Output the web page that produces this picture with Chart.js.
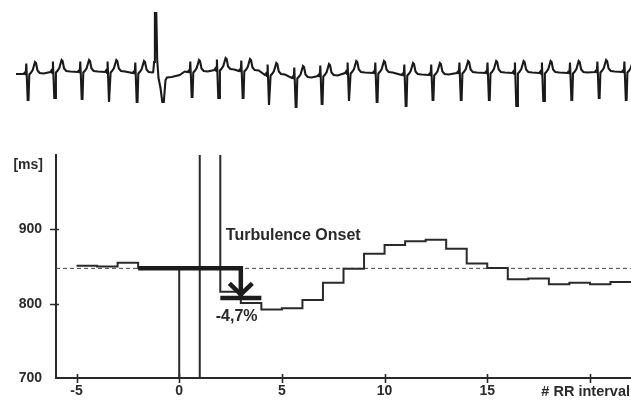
<!DOCTYPE html>
<html>
<head>
<meta charset="utf-8">
<title>Heart rate turbulence</title>
<script src="https://cdn.jsdelivr.net/npm/chart.js@4.4.0/dist/chart.umd.min.js"></script>
<style>
  html, body { margin: 0; padding: 0; background: #fff; }
  #wrap { position: relative; width: 631px; height: 402px; overflow: hidden; }
  #wrap canvas { position: absolute; left: 0; top: 0; }
</style>
</head>
<body>
<div id="wrap">
  <canvas id="rr" width="631" height="402"></canvas>
  <canvas id="ecg" width="631" height="130"></canvas>
</div>
<script>
// ---------- RR tachogram around a ventricular premature complex ----------
// Each value holds from its index to the next index (0 = coupling interval, 1 = compensatory pause).
const rrIndex = [-5, -4, -3, -2, -1, 0, 1, 2, 3, 4, 5, 6, 7, 8, 9, 10, 11, 12, 13, 14, 15, 16, 17, 18, 19, 20, 21];
const rrMs    = [851, 850, 855, 848, 847, 600, 1100, 816, 801, 792, 794, 805, 828, 847, 867, 879, 884, 886, 874, 854, 848, 833, 834, 826, 828, 826, 829];

// Intervals used for turbulence onset: two before the coupling interval, two after the pause
const preWindow  = [-2, -1];
const postWindow = [2, 3];
const turbulenceOnsetPct = -4.7;

const xTickValues = [-5, 0, 5, 10, 15, 20];
const xTickLabels = ['-5', '0', '5', '10', '15', ''];
const yTickValues = [700, 800, 900];
const yTickLabels = ['700', '800', '900'];
const xRange = [-6, 22];
const yRange = [700, 1000];

const yUnitLabel   = '[ms]';
const xAxisName    = '# RR interval';
const onsetTitle   = 'Turbulence Onset';
const onsetText    = '-4,7%';
const onsetTitleAt = { x: 2.27, y: 885 };
const onsetTextAt  = { x: 1.78, y: 777 };

// ---------- ECG strip ----------
const ecgStart     = 16;
const ecgBeatTime  = [27.7, 54.3, 81.7, 109.0, 136.7, 191.7, 218.3, 242.7, 269.0, 295.7, 321.7, 349.0, 376.7, 405.7, 432.6, 460.8, 488.9, 516.3, 543.3, 571.4, 598.8, 625.8];
const ecgBaseline  = [-0.2, 0, 0, 0, -0.1, 0, 0.2, 0.1, -0.3, -0.6, -0.4, -0.1, -0.1, -0.3, -0.3, -0.1, -0.1, -0.1, -0.1, -0.1, 0, 0];
const ecgSWave     = [-2.6, -2.6, -2.7, -3.0, -2.9, -2.5, -2.8, -2.7, -3.0, -2.9, -2.8, -2.8, -2.9, -3.1, -2.5, -2.7, -2.7, -3.3, -2.8, -2.7, -2.6, -2.8];
// sinus beat shape around the S wave; null marks the S wave depth
const beatShapeDt  = [-4, -3, -2.4, -2.0, -1.4, 0, 0.8, 1.6, 3, 5, 7.3, 8.3, 9.8, 12, 16];
const beatShapeMv  = [0, 0.15, 0.15, -0.1, 1.05, null, null, -0.05, 0.1, 0.4, 1.2, 1.1, 0.35, 0.1, 0.05];
// the premature ventricular beat
const pvcTime      = 155.7;
const pvcShapeDt   = [-2.5, -1.6, -0.8, 0.6, 1.5, 2.8, 4.8, 6.6, 8.1, 9.8, 11.3, 16, 24, 29];
const pvcShapeMv   = [0, 1.0, 5.9, 5.9, 1.2, -0.6, -1.6, -3.0, -3.0, -0.8, -0.55, -0.5, -0.3, 0.05];

// ---------- styling ----------
const INK = '#2a2a2a';
const FONT = '"Liberation Sans", Arial, Helvetica, sans-serif';
Chart.defaults.font.family = FONT;
Chart.defaults.color = INK;

// ---------- derived series ----------
const valueAt = i => rrMs[rrIndex.indexOf(i)];
const mean = a => a.reduce((s, v) => s + v, 0) / a.length;
const preMean = mean(preWindow.map(valueAt));
const postLevel = preMean * (1 + turbulenceOnsetPct / 100);
const postStart = postWindow[0];
const postEnd = postWindow[postWindow.length - 1] + 1;
const arrowX = (postStart + postEnd) / 2;

const stepPoints = rrIndex.map((x, i) => ({ x, y: rrMs[i] }));
stepPoints.push({ x: rrIndex[rrIndex.length - 1] + 1, y: rrMs[rrMs.length - 1] });

const baselinePoints = [{ x: xRange[0], y: preMean }, { x: xRange[1], y: preMean }];
const prePoints = [{ x: preWindow[0], y: preMean }, { x: arrowX, y: preMean }, { x: arrowX, y: postLevel }];
const postPoints = [{ x: postStart, y: postLevel }, { x: postEnd, y: postLevel }];

// crossing tick marks, arrow head and text labels
const decorations = {
  id: 'decorations',
  afterDatasetsDraw(chart) {
    const { ctx } = chart;
    const xs = chart.scales.x, ys = chart.scales.y;
    ctx.save();
    ctx.strokeStyle = INK;
    ctx.lineWidth = 1.6;
    ctx.beginPath();
    xs.ticks.forEach(t => {
      const px = Math.round(xs.getPixelForValue(t.value)) + 0.5;
      ctx.moveTo(px, ys.bottom - 4);
      ctx.lineTo(px, ys.bottom + 5);
    });
    ys.ticks.forEach(t => {
      if (t.value === yRange[0]) return;
      const py = Math.round(ys.getPixelForValue(t.value)) + 0.5;
      ctx.moveTo(xs.left - 6, py);
      ctx.lineTo(xs.left + 3, py);
    });
    ctx.stroke();

    // arrow head on the onset arrow
    const ax = xs.getPixelForValue(arrowX);
    const ay = ys.getPixelForValue(postLevel) - 3.5;
    ctx.lineWidth = 4.5;
    ctx.lineJoin = 'miter';
    ctx.strokeStyle = '#1c1c1c';
    ctx.beginPath();
    ctx.moveTo(ax - 11.5, ay - 11);
    ctx.lineTo(ax, ay);
    ctx.lineTo(ax + 11.5, ay - 11);
    ctx.stroke();

    ctx.fillStyle = INK;
    ctx.font = 'bold 16px ' + FONT;
    ctx.textAlign = 'left';
    ctx.textBaseline = 'alphabetic';
    ctx.fillText(onsetTitle, xs.getPixelForValue(onsetTitleAt.x), ys.getPixelForValue(onsetTitleAt.y));
    ctx.fillText(onsetText, xs.getPixelForValue(onsetTextAt.x), ys.getPixelForValue(onsetTextAt.y));

    ctx.font = 'bold 14px ' + FONT;
    ctx.textAlign = 'right';
    ctx.textBaseline = 'middle';
    ctx.fillText(yUnitLabel, xs.left - 13, ys.top + 10);
    ctx.font = 'bold 14.5px ' + FONT;
    ctx.fillText(xAxisName, chart.width - 1, ys.bottom + 13.5);
    ctx.restore();
  }
};

new Chart(document.getElementById('rr'), {
  type: 'line',
  data: {
    datasets: [
      { data: prePoints, borderColor: '#1c1c1c', borderWidth: 4.5, pointRadius: 0, borderJoinStyle: 'miter', order: 0 },
      { data: postPoints, borderColor: '#1c1c1c', borderWidth: 4.5, pointRadius: 0, order: 1 },
      { data: baselinePoints, borderColor: '#444', borderWidth: 1, borderDash: [4, 3], pointRadius: 0, order: 3 },
      { data: stepPoints, stepped: true, borderColor: INK, borderWidth: 2, pointRadius: 0, order: 2 }
    ]
  },
  options: {
    responsive: false,
    animation: false,
    events: [],
    layout: { padding: { top: 155, left: 0, right: 0, bottom: 0 } },
    plugins: { legend: { display: false }, tooltip: { enabled: false } },
    scales: {
      x: {
        type: 'linear',
        min: xRange[0], max: xRange[1],
        grid: { display: false, drawTicks: false },
        border: { display: true, color: INK, width: 2 },
        afterBuildTicks: s => { s.ticks = xTickValues.map(v => ({ value: v })); },
        afterFit: s => { s.height = 24; s.paddingLeft = 0; s.paddingRight = 0; },
        ticks: {
          padding: 5, maxRotation: 0, autoSkip: false,
          font: { size: 14, weight: 'bold' }, color: INK,
          callback: (v, i) => xTickLabels[i]
        }
      },
      y: {
        type: 'linear',
        min: yRange[0], max: yRange[1],
        grid: { display: false, drawTicks: false },
        border: { display: true, color: INK, width: 2 },
        afterBuildTicks: s => { s.ticks = yTickValues.map(v => ({ value: v })); },
        afterFit: s => { s.width = 56; s.paddingTop = 0; s.paddingBottom = 0; },
        ticks: {
          padding: 14, autoSkip: false,
          font: { size: 14, weight: 'bold' }, color: INK,
          callback: (v, i) => yTickLabels[i]
        }
      }
    }
  },
  plugins: [decorations]
});

// ---------- ECG trace ----------
const ecgPoints = [{ x: ecgStart, y: ecgBaseline[0] }];
ecgBeatTime.forEach((t, b) => {
  if (t > pvcTime && ecgBeatTime[b - 1] < pvcTime) {
    pvcShapeDt.forEach((dt, k) => ecgPoints.push({ x: pvcTime + dt, y: pvcShapeMv[k] }));
  }
  beatShapeDt.forEach((dt, k) => {
    const mv = beatShapeMv[k] === null ? ecgSWave[b] : beatShapeMv[k];
    ecgPoints.push({ x: t + dt, y: ecgBaseline[b] + mv });
  });
});

new Chart(document.getElementById('ecg'), {
  type: 'line',
  data: {
    datasets: [{ data: ecgPoints, borderColor: '#1a1a1a', borderWidth: 2.1, pointRadius: 0, tension: 0, borderJoinStyle: 'miter' }]
  },
  options: {
    responsive: false,
    animation: false,
    events: [],
    layout: { padding: 0 },
    plugins: { legend: { display: false }, tooltip: { enabled: false } },
    scales: {
      x: { type: 'linear', min: 0, max: 631, display: false },
      y: { type: 'linear', min: -5.8, max: 7.2, display: false }
    }
  }
});
</script>
</body>
</html>
